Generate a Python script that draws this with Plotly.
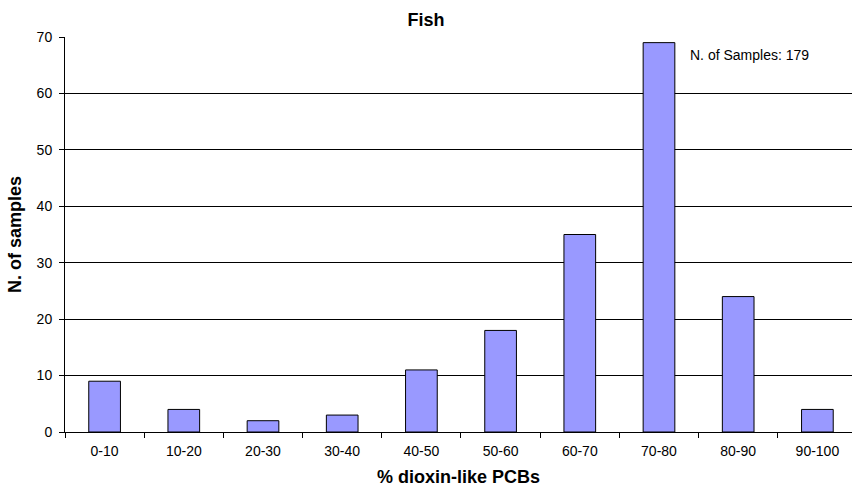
import plotly.graph_objects as go

# Share of dioxin-like PCBs in fish samples
categories = ["0-10", "10-20", "20-30", "30-40", "40-50",
              "50-60", "60-70", "70-80", "80-90", "90-100"]
counts = [9, 4, 2, 3, 11, 18, 35, 69, 24, 4]
y_ticks = [0, 10, 20, 30, 40, 50, 60, 70]

FONT = "Liberation Sans, Arial, sans-serif"

fig = go.Figure(
    go.Bar(
        x=categories,
        y=counts,
        marker=dict(color="#9999FF", line=dict(color="#000000", width=1)),
        width=0.40,
    )
)

fig.update_layout(
    width=852,
    height=491,
    margin=dict(l=65, r=0, t=37, b=59),
    paper_bgcolor="white",
    plot_bgcolor="white",
    showlegend=False,
    font=dict(family=FONT, size=14, color="#000000"),
    title=dict(
        text="<b>Fish</b>",
        x=0.5,
        xref="container",
        xanchor="center",
        y=0.959,
        yanchor="middle",
        font=dict(family=FONT, size=18, color="#000000"),
    ),
    annotations=[
        dict(
            text="N. of Samples: 179",
            xref="paper",
            yref="paper",
            x=0.792,
            y=0.954,
            xanchor="left",
            yanchor="middle",
            showarrow=False,
            font=dict(family=FONT, size=14, color="#000000"),
        )
    ],
)

fig.update_xaxes(
    type="category",
    range=[-0.5, 9.437],
    tickson="boundaries",
    ticks="outside",
    ticklen=5,
    tickcolor="#000000",
    showline=True,
    linecolor="#000000",
    linewidth=1,
    showgrid=False,
    ticklabelstandoff=6,
    tickfont=dict(family=FONT, size=14),
    title=dict(text="<b>% dioxin-like PCBs</b>", font=dict(family=FONT, size=18), standoff=12),
)

fig.update_yaxes(
    range=[0, 70],
    tickvals=y_ticks,
    ticks="outside",
    ticklen=5,
    tickcolor="#000000",
    showline=True,
    linecolor="#000000",
    linewidth=1,
    showgrid=True,
    gridcolor="#000000",
    gridwidth=1,
    zeroline=False,
    ticklabelstandoff=4,
    tickfont=dict(family=FONT, size=14),
    title=dict(text="<b>N. of samples</b>", font=dict(family=FONT, size=18), standoff=10),
)

fig.write_html("out.html")
